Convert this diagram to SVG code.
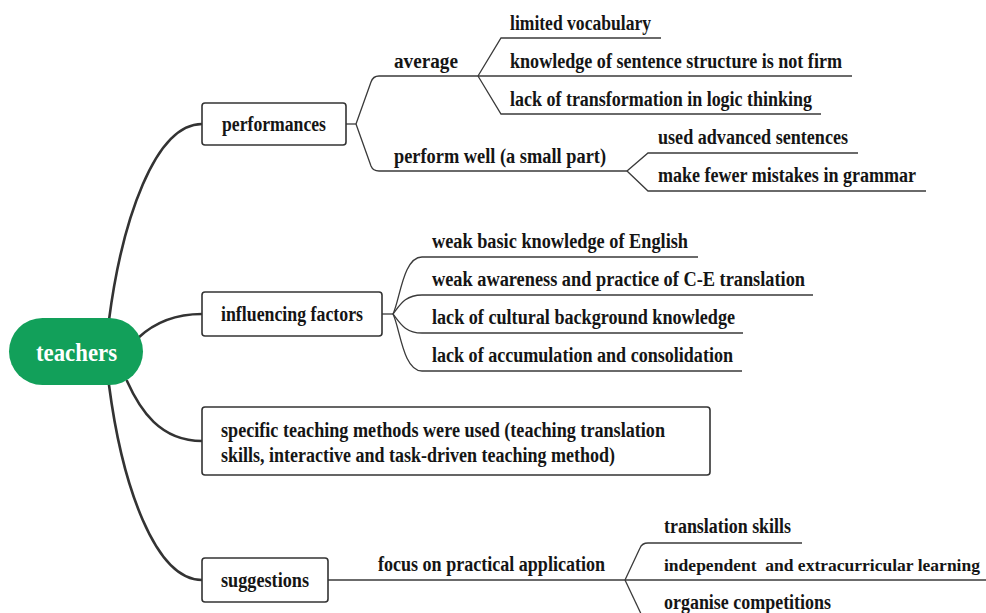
<svg xmlns="http://www.w3.org/2000/svg" width="986" height="613" viewBox="0 0 986 613">
<style>
  text { font-family: "Liberation Serif", "Times New Roman", serif; font-weight: bold; fill: #151515; font-size: 20px; }
  .box { fill: #ffffff; stroke: #333333; stroke-width: 1.6; }
  .root { fill: #12a05a; }
  .rootText { fill: #ffffff; font-size: 25px; }
  .main { fill: none; stroke: #333333; stroke-width: 2.6; stroke-linecap: round; }
  .sub { fill: none; stroke: #3a3a3a; stroke-width: 1.3; }
</style>
<rect width="986" height="613" fill="#ffffff"/>
<g id="connectors">
  <path class="main" d="M109,320 C122,220 155,124 202,124"/>
  <path class="main" d="M138,338 C155,322 175,314 202,314"/>
  <path class="main" d="M127,381 C140,410 160,441 202,441"/>
  <path class="main" d="M109,385 C122,485 155,580 202,580"/>
  <path class="sub" d="M346,124 H356"/>
  <path class="sub" d="M356,124 L371,82 Q373,76 379,76 H478"/>
  <path class="sub" d="M356,124 L371,166 Q373,171 379,171 H627"/>
  <path class="sub" d="M478,76 L501,38 H661"/>
  <path class="sub" d="M478,76 H852"/>
  <path class="sub" d="M478,76 L501,114 H821"/>
  <path class="sub" d="M627,171 L648,153 H858"/>
  <path class="sub" d="M627,171 L648,191 H926"/>
  <path class="sub" d="M382,314 H393"/>
  <path class="sub" d="M393,314 C400,300 403,257 422,257 H698"/>
  <path class="sub" d="M393,314 C400,305 405,295 422,295 H813"/>
  <path class="sub" d="M393,314 C400,323 405,333 422,333 H743"/>
  <path class="sub" d="M393,314 C400,328 403,371 422,371 H742"/>
  <path class="sub" d="M328,580 H625"/>
  <path class="sub" d="M625,580 L640,548 Q642,543 648,543 H802"/>
  <path class="sub" d="M625,580 H986"/>
  <path class="sub" d="M625,580 L643,618"/>
</g>
<g id="node-teachers">
  <rect class="root" x="9" y="318" width="134" height="67" rx="33.5"/>
  <text class="rootText" x="36" y="361" textLength="81" lengthAdjust="spacingAndGlyphs">teachers</text>
</g>
<g id="node-performances">
  <rect class="box" x="202" y="103" width="144" height="42" rx="3"/>
  <text x="222" y="131" textLength="104" lengthAdjust="spacingAndGlyphs">performances</text>
</g>
<g id="node-average">
  <text x="394" y="68" textLength="64" lengthAdjust="spacingAndGlyphs">average</text>
</g>
<g id="node-limited-vocabulary">
  <text x="510" y="30" textLength="141" lengthAdjust="spacingAndGlyphs">limited vocabulary</text>
</g>
<g id="node-sentence-structure">
  <text x="510" y="68" textLength="332" lengthAdjust="spacingAndGlyphs">knowledge of sentence structure is not firm</text>
</g>
<g id="node-logic-thinking">
  <text x="510" y="106" textLength="302" lengthAdjust="spacingAndGlyphs">lack of transformation in logic thinking</text>
</g>
<g id="node-perform-well">
  <text x="394" y="163" textLength="212" lengthAdjust="spacingAndGlyphs">perform well (a small part)</text>
</g>
<g id="node-advanced-sentences">
  <text x="658" y="144" textLength="190" lengthAdjust="spacingAndGlyphs">used advanced sentences</text>
</g>
<g id="node-fewer-mistakes">
  <text x="658" y="182" textLength="258" lengthAdjust="spacingAndGlyphs">make fewer mistakes in grammar</text>
</g>
<g id="node-influencing-factors">
  <rect class="box" x="202" y="292" width="180" height="44" rx="3"/>
  <text x="221" y="321" textLength="142" lengthAdjust="spacingAndGlyphs">influencing factors</text>
</g>
<g id="node-weak-basic">
  <text x="432" y="248" textLength="256" lengthAdjust="spacingAndGlyphs">weak basic knowledge of English</text>
</g>
<g id="node-weak-awareness">
  <text x="432" y="286" textLength="373" lengthAdjust="spacingAndGlyphs">weak awareness and practice of C-E translation</text>
</g>
<g id="node-cultural">
  <text x="432" y="324" textLength="303" lengthAdjust="spacingAndGlyphs">lack of cultural background knowledge</text>
</g>
<g id="node-accumulation">
  <text x="432" y="362" textLength="301" lengthAdjust="spacingAndGlyphs">lack of accumulation and consolidation</text>
</g>
<g id="node-teaching-methods">
  <rect class="box" x="202" y="407" width="508" height="68" rx="3"/>
  <text x="221" y="437" textLength="444" lengthAdjust="spacingAndGlyphs">specific teaching methods were used (teaching translation</text>
  <text x="221" y="462" textLength="394" lengthAdjust="spacingAndGlyphs">skills, interactive and task-driven teaching method)</text>
</g>
<g id="node-suggestions">
  <rect class="box" x="202" y="558" width="126" height="44" rx="3"/>
  <text x="221" y="587" textLength="88" lengthAdjust="spacingAndGlyphs">suggestions</text>
</g>
<g id="node-practical-application">
  <text x="378" y="571" textLength="227" lengthAdjust="spacingAndGlyphs">focus on practical application</text>
</g>
<g id="node-translation-skills">
  <text x="664" y="533" textLength="127" lengthAdjust="spacingAndGlyphs">translation skills</text>
</g>
<g id="node-independent-learning">
  <text x="664" y="571" style="font-size:17.5px" textLength="316" lengthAdjust="spacingAndGlyphs" xml:space="preserve">independent  and extracurricular learning</text>
</g>
<g id="node-competitions">
  <text x="664" y="609" textLength="167" lengthAdjust="spacingAndGlyphs">organise competitions</text>
</g>
</svg>
